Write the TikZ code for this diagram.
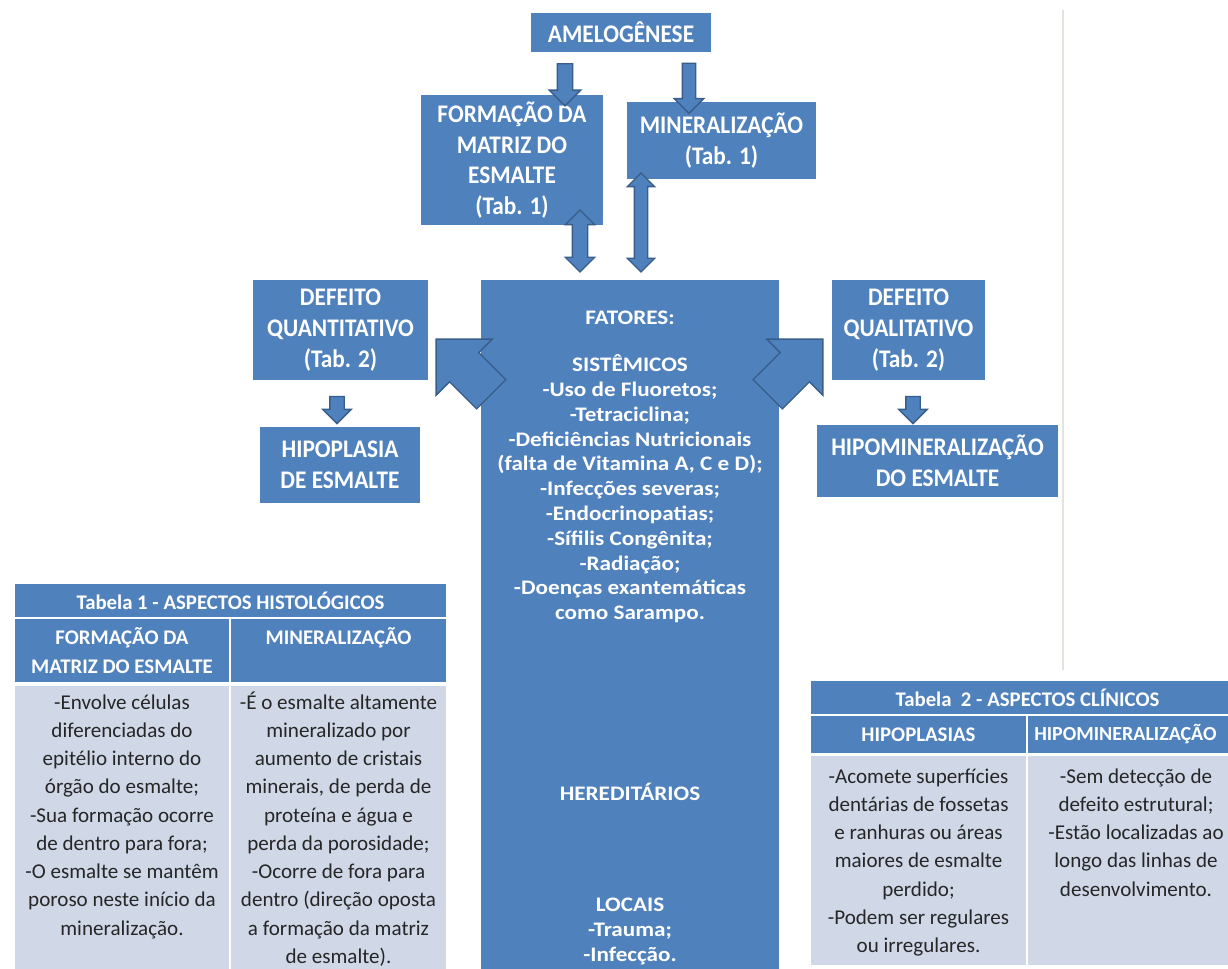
\documentclass[tikz,border=0pt]{standalone}
\usepackage{fontspec}
\setmainfont{Carlito}
\newfontfamily\widefont[FakeStretch=1.12]{Carlito}
\newfontfamily\boxfont[FakeStretch=0.92]{Carlito}
\usetikzlibrary{shapes.arrows}

\definecolor{boxblue}{HTML}{4F81BD}
\definecolor{arrowline}{HTML}{385D8A}
\definecolor{cellblue}{HTML}{D0D8E8}
\definecolor{rulegray}{HTML}{E4E4DC}

\begin{document}
\begin{tikzpicture}[x=0.75pt,y=-0.75pt]

\def\px{0.75pt}

\tikzstyle{box}=[rectangle,fill=boxblue,text=white,font=\boxfont\fontsize{19}{23}\selectfont\bfseries,align=center,inner sep=0pt]
\tikzstyle{blockdown}=[single arrow,shape border rotate=270,fill=boxblue,draw=arrowline,line width=1pt]
\tikzstyle{blockboth}=[double arrow,shape border rotate=90,fill=boxblue,draw=arrowline,line width=1pt]
\tikzstyle{chevron}=[single arrow,fill=boxblue,draw=arrowline,line width=1pt,inner sep=20*\px,minimum height=78*\px,single arrow head extend=19*\px]
\tikzstyle{factor}=[text=white,font=\widefont\fontsize{15.5}{18.6}\selectfont\bfseries,align=center,inner sep=0pt]
\tikzstyle{cell}=[rectangle,draw=white,line width=2pt,inner sep=0pt]
\tikzstyle{head}=[cell,fill=boxblue,text=white,font=\fontsize{15.6}{21.5}\selectfont\bfseries,align=center]
\tikzstyle{body}=[cell,fill=cellblue]
\tikzstyle{celltext}=[text=black!85,font=\fontsize{15.8}{21.2}\selectfont,align=center,inner sep=0pt,anchor=north]

\useasboundingbox (0,0) rectangle (1228,969);
\clip (0,0) rectangle (1228,969);

\draw[rulegray,line width=1pt] (1063,10) -- (1063,670);

%top
\node[box,minimum width=180*\px,minimum height=39*\px] (amelo) at (621,32.5) {AMELOGÊNESE};
\node[box,minimum width=182*\px,minimum height=130*\px] (matriz) at (512,160) {FORMAÇÃO DA\\MATRIZ DO\\ESMALTE\\(Tab. 1)};
\node[box,minimum width=189*\px,minimum height=77*\px] (mineral) at (721.5,140.5) {MINERALIZAÇÃO\\(Tab. 1)};

\node[blockdown,inner sep=7*\px,single arrow head extend=8*\px,minimum height=42*\px] (a1) at (565,81) {};
\node[blockdown,inner sep=6*\px,single arrow head extend=8*\px,minimum height=50*\px] (a2) at (689,85) {};

%fatores
\node[rectangle,fill=boxblue,minimum width=298*\px,minimum height=700*\px,inner sep=0pt] (fatores) at (630,630) {};
\node[factor,anchor=base] (fattitle) at (630,325) {FATORES:};
\node[factor,anchor=north] (sist) at (630,354) {\strut SISTÊMICOS\\-Uso de Fluoretos;\\-Tetraciclina;\\-Deficiências Nutricionais\\(falta de Vitamina A, C e D);\\-Infecções severas;\\-Endocrinopatias;\\-Sífilis Congênita;\\-Radiação;\\-Doenças exantemáticas\\como Sarampo.};
\node[factor,anchor=base] (hered) at (630,800) {HEREDITÁRIOS};
\node[factor,anchor=north] (locais) at (630,894) {\strut LOCAIS\\-Trauma;\\-Infecção.};

\node[blockboth,inner sep=7*\px,double arrow head extend=7*\px,minimum height=62*\px] (d1) at (580,241) {};
\node[blockboth,inner sep=6*\px,double arrow head extend=7*\px,minimum height=99*\px] (d2) at (641,222.5) {};

%defeitos
\node[box,minimum width=175*\px,minimum height=100*\px] (quant) at (340.5,330) {DEFEITO\\QUANTITATIVO\\(Tab. 2)};
\node[box,minimum width=160*\px,minimum height=76*\px] (hipopl) at (340,465) {HIPOPLASIA\\DE ESMALTE};
\node[box,minimum width=153*\px,minimum height=100*\px] (qualit) at (908.5,330) {DEFEITO\\QUALITATIVO\\(Tab. 2)};
\node[box,minimum width=241*\px,minimum height=72*\px] (hipomin) at (937.5,461) {HIPOMINERALIZAÇÃO\\DO ESMALTE};

\node[blockdown,inner sep=6.5*\px,single arrow head extend=7*\px,minimum height=27*\px] (s1) at (337,406.5) {};
\node[blockdown,inner sep=6.5*\px,single arrow head extend=7*\px,minimum height=27*\px] (s2) at (913,406.5) {};

\node[chevron,rotate=135] (c1) at (471,374) {};
\node[chevron,rotate=45] (c2) at (788,374) {};

%tabela 1
\node[head,minimum width=433*\px,minimum height=35*\px] (t1title) at (230.5,600.5) {Tabela 1 - ASPECTOS HISTOLÓGICOS};
\node[head,minimum width=216*\px,minimum height=65*\px] (t1hdA) at (122,650.5) {FORMAÇÃO DA\\MATRIZ DO ESMALTE};
\node[head,minimum width=217*\px,minimum height=65*\px] (t1hdB) at (338.5,650.5) {MINERALIZAÇÃO\\~};
\node[body,minimum width=216*\px,minimum height=292*\px] (t1bodyA) at (122,831) {};
\node[body,minimum width=217*\px,minimum height=292*\px] (t1bodyB) at (338.5,831) {};
\node[celltext] (t1txtA) at (122,689) {\strut -Envolve células\\diferenciadas do\\epitélio interno do\\órgão do esmalte;\\-Sua formação ocorre\\de dentro para fora;\\-O esmalte se mantêm\\poroso neste início da\\mineralização.};
\node[celltext] (t1txtB) at (338.5,689) {\strut -É o esmalte altamente\\mineralizado por\\aumento de cristais\\minerais, de perda de\\proteína e água e\\perda da porosidade;\\-Ocorre de fora para\\dentro (direção oposta\\a formação da matriz\\de esmalte).};

%tabela 2
\node[head,minimum width=435*\px,minimum height=35*\px] (t2title) at (1027.5,697.5) {Tabela\ \ 2 - ASPECTOS CLÍNICOS};
\node[head,minimum width=217*\px,minimum height=39*\px] (t2hdA) at (918.5,734.5) {HIPOPLASIAS};
\node[head,minimum width=218*\px,minimum height=39*\px] (t2hdB) at (1136,734.5) {};
\node[text=white,font=\fontsize{15}{21.5}\selectfont\bfseries,inner sep=0pt,anchor=west] (t2hdBtxt) at (1034,734.5) {HIPOMINERALIZAÇÃO};
\node[body,minimum width=217*\px,minimum height=211*\px] (t2bodyA) at (918.5,860.5) {};
\node[body,minimum width=218*\px,minimum height=211*\px] (t2bodyB) at (1136,860.5) {};
\node[celltext] (t2txtA) at (918.5,763) {\strut -Acomete superfícies\\dentárias de fossetas\\e ranhuras ou áreas\\maiores de esmalte\\perdido;\\-Podem ser regulares\\ou irregulares.};
\node[celltext] (t2txtB) at (1136,763) {\strut -Sem detecção de\\defeito estrutural;\\-Estão localizadas ao\\longo das linhas de\\desenvolvimento.};

\end{tikzpicture}
\end{document}
